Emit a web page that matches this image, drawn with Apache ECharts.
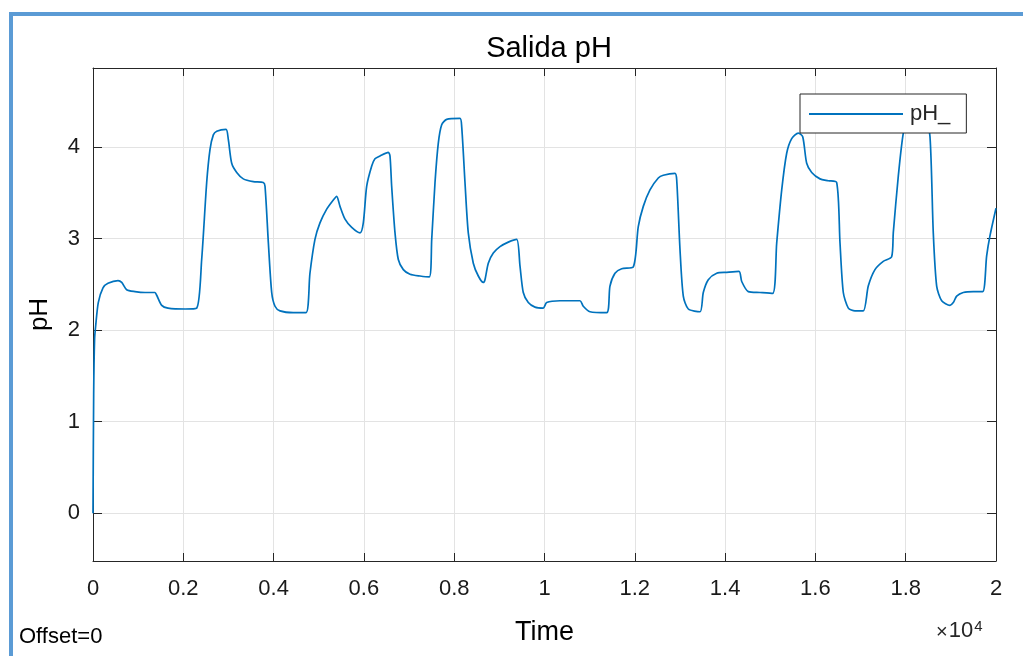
<!DOCTYPE html>
<html>
<head>
<meta charset="utf-8">
<title>Salida pH</title>
<script src="https://cdn.jsdelivr.net/npm/echarts@6/dist/echarts.min.js"></script>
<style>
  html, body { margin: 0; padding: 0; background: #ffffff; }
  #chart { width: 1023px; height: 656px; }
</style>
</head>
<body>
<div id="chart"></div>
<script>
// Simulation time (s) and measured pH of the output signal
const timeValues = [
  0, 15, 35, 60, 117, 221, 332, 554, 636, 746, 930, 1152, 1373, 1411, 1522, 1661, 2038, 2297,
  2407, 2518, 2591, 2665, 2740, 2946, 2997, 3072, 3183, 3329, 3550, 3772, 3810, 3883, 3958, 4031,
  4142, 4436, 4717, 4805, 4916, 5027, 5176, 5323, 5397, 5471, 5582, 5730, 5914, 5987, 6062, 6173,
  6245, 6356, 6540, 6578, 6615, 6689, 6762, 6873, 7021, 7242, 7448, 7502, 7575, 7648, 7723, 7834,
  8128, 8166, 8239, 8312, 8423, 8534, 8644, 8682, 8755, 8866, 9014, 9198, 9384, 9457, 9530, 9641,
  9789, 9973, 10048, 10343, 10786, 10859, 11008, 11377, 11450, 11561, 11710, 11967, 12077, 12188,
  12336, 12520, 12631, 12890, 12928, 13001, 13074, 13185, 13444, 13517, 13628, 13814, 14035, 14308,
  14368, 14514, 14773, 15054, 15143, 15254, 15364, 15475, 15621, 15719, 15807, 15918, 16102, 16286,
  16472, 16545, 16618, 16729, 16877, 17061, 17171, 17319, 17503, 17689, 17725, 17836, 17947, 18051,
  18250, 18428, 18538, 18611, 18686, 18797, 18981, 19054, 19129, 19275, 19497, 19705, 19793, 19867,
  20000
];
const phValues = [
  0.00, 1.30, 1.90, 2.05, 2.30, 2.46, 2.51, 2.54, 2.52, 2.44, 2.42, 2.41, 2.41, 2.38, 2.27, 2.24, 2.23, 2.24,
  2.77, 3.61, 3.97, 4.13, 4.17, 4.19, 4.08, 3.82, 3.72, 3.65, 3.62, 3.61, 3.57, 2.96, 2.41, 2.26,
  2.21, 2.19, 2.19, 2.62, 2.99, 3.17, 3.32, 3.42, 3.46, 3.35, 3.21, 3.12, 3.06, 3.17, 3.57, 3.79,
  3.87, 3.90, 3.94, 3.90, 3.57, 3.06, 2.77, 2.66, 2.61, 2.59, 2.58, 2.99, 3.61, 4.04, 4.24, 4.30,
  4.31, 4.22, 3.61, 3.06, 2.73, 2.59, 2.52, 2.55, 2.73, 2.84, 2.91, 2.96, 2.99, 2.70, 2.41, 2.30,
  2.25, 2.24, 2.30, 2.32, 2.32, 2.26, 2.20, 2.19, 2.48, 2.62, 2.67, 2.69, 3.13, 3.35,
  3.53, 3.66, 3.69, 3.71, 3.64, 2.88, 2.37, 2.23, 2.20, 2.41, 2.55, 2.62, 2.63, 2.64,
  2.53, 2.42, 2.41, 2.40, 2.95, 3.53, 3.93, 4.09, 4.15, 4.11, 3.82, 3.72, 3.65, 3.63,
  3.61, 2.95, 2.41, 2.24, 2.21, 2.21, 2.48, 2.66, 2.75, 2.80, 3.06, 3.68, 4.15, 4.30,
  4.34, 4.35, 4.11, 3.06, 2.48, 2.32, 2.27, 2.30, 2.37, 2.41, 2.42, 2.42, 2.81, 3.03,
  3.33
];
const xTickStep = 2000;
const seriesName = 'pH_';

const axisColor = '#262626';
const gridColor = '#e3e3e3';
const lineColor = '#0072BD';
const fontFamily = 'Liberation Sans, Arial, Helvetica, sans-serif';

const seriesData = timeValues.map((t, i) => [t, phValues[i]]);

const chart = echarts.init(document.getElementById('chart'), null, { renderer: 'canvas' });

const option = {
  backgroundColor: '#ffffff',
  animation: false,
  title: {
    text: 'Salida pH',
    left: 544,
    textAlign: 'center',
    top: 29,
    textStyle: { fontFamily, fontSize: 29, fontWeight: 'normal', color: '#000000' }
  },
  legend: {
    data: [{ name: seriesName, icon: 'rect' }],
    left: 800,
    top: 94,
    orient: 'vertical',
    padding: [9, 16, 8, 9],
    itemWidth: 94,
    itemHeight: 2,
    itemGap: 6,
    itemStyle: { color: lineColor },
    backgroundColor: '#ffffff',
    borderColor: axisColor,
    borderWidth: 1,
    borderRadius: 0,
    textStyle: { fontFamily, fontSize: 22, color: axisColor, padding: [0, 0, 0, 2] }
  },
  grid: { left: 93, right: 27, top: 68, bottom: 95, containLabel: false },
  xAxis: [
    {
      type: 'value',
      min: 0,
      max: 20000,
      interval: xTickStep,
      name: 'Time',
      nameLocation: 'middle',
      nameGap: 58,
      nameTextStyle: { fontFamily, fontSize: 27, color: '#000000' },
      axisLine: { show: true, onZero: false, lineStyle: { color: axisColor, width: 1 } },
      axisTick: { show: true, inside: true, length: 8, lineStyle: { color: axisColor, width: 1 } },
      axisLabel: {
        fontFamily, fontSize: 22, color: '#1a1a1a', margin: 17,
        formatter: v => String(+(v / 10000).toFixed(1))
      },
      splitLine: { show: true, lineStyle: { color: gridColor, width: 1 } }
    },
    {
      type: 'value',
      position: 'top',
      min: 0,
      max: 20000,
      interval: xTickStep,
      axisLine: { show: true, onZero: false, lineStyle: { color: axisColor, width: 1 } },
      axisTick: { show: true, inside: true, length: 8, lineStyle: { color: axisColor, width: 1 } },
      axisLabel: { show: false },
      splitLine: { show: false }
    }
  ],
  yAxis: [
    {
      type: 'value',
      min: -0.52,
      max: 4.86,
      splitNumber: 5,
      name: 'pH',
      nameLocation: 'middle',
      nameGap: 40,
      nameTextStyle: { fontFamily, fontSize: 26, color: '#000000' },
      axisLine: { show: true, onZero: false, lineStyle: { color: axisColor, width: 1 } },
      axisTick: { show: true, inside: true, length: 9, lineStyle: { color: axisColor, width: 1 } },
      axisLabel: {
        fontFamily, fontSize: 22, color: '#1a1a1a', margin: 13,
        showMinLabel: false, showMaxLabel: false,
        formatter: v => (Math.abs(v - Math.round(v)) < 1e-6 ? String(Math.round(v)) : '')
      },
      splitLine: { show: true, lineStyle: { color: gridColor, width: 1 } }
    },
    {
      type: 'value',
      position: 'right',
      min: -0.52,
      max: 4.86,
      splitNumber: 5,
      axisLine: { show: true, onZero: false, lineStyle: { color: axisColor, width: 1 } },
      axisTick: { show: true, inside: true, length: 9, lineStyle: { color: axisColor, width: 1 } },
      axisLabel: { show: false },
      splitLine: { show: false }
    }
  ],
  series: [
    {
      name: seriesName,
      type: 'line',
      xAxisIndex: 0,
      yAxisIndex: 0,
      data: seriesData,
      symbol: 'none',
      smooth: 0.25,
      z: 3,
      lineStyle: { color: lineColor, width: 1.7 },
      itemStyle: { color: lineColor }
    }
  ],
  graphic: [
    // figure frame lines along the top and left edges
    { type: 'rect', left: 9, top: 12, shape: { width: 1014, height: 4 }, style: { fill: '#5b9bd5' }, silent: true },
    { type: 'rect', left: 9, top: 12, shape: { width: 4, height: 644 }, style: { fill: '#5b9bd5' }, silent: true },
    {
      type: 'text', left: 19, top: 626, silent: true,
      style: { text: 'Offset=0', fontFamily, fontSize: 22, fill: '#000000' }
    },
    {
      type: 'text', left: 936, top: 619, silent: true,
      style: {
        text: '{m|×}{b|10}{s|4}',
        rich: {
          m: { fontFamily, fontSize: 20, fill: axisColor, verticalAlign: 'bottom' },
          b: { fontFamily, fontSize: 22, fill: axisColor, verticalAlign: 'bottom', padding: [0, 0, 0, 1] },
          s: { fontFamily, fontSize: 15, fill: axisColor, verticalAlign: 'top', padding: [0, 0, 8, 1] }
        }
      }
    }
  ]
};

chart.setOption(option);
</script>
</body>
</html>
